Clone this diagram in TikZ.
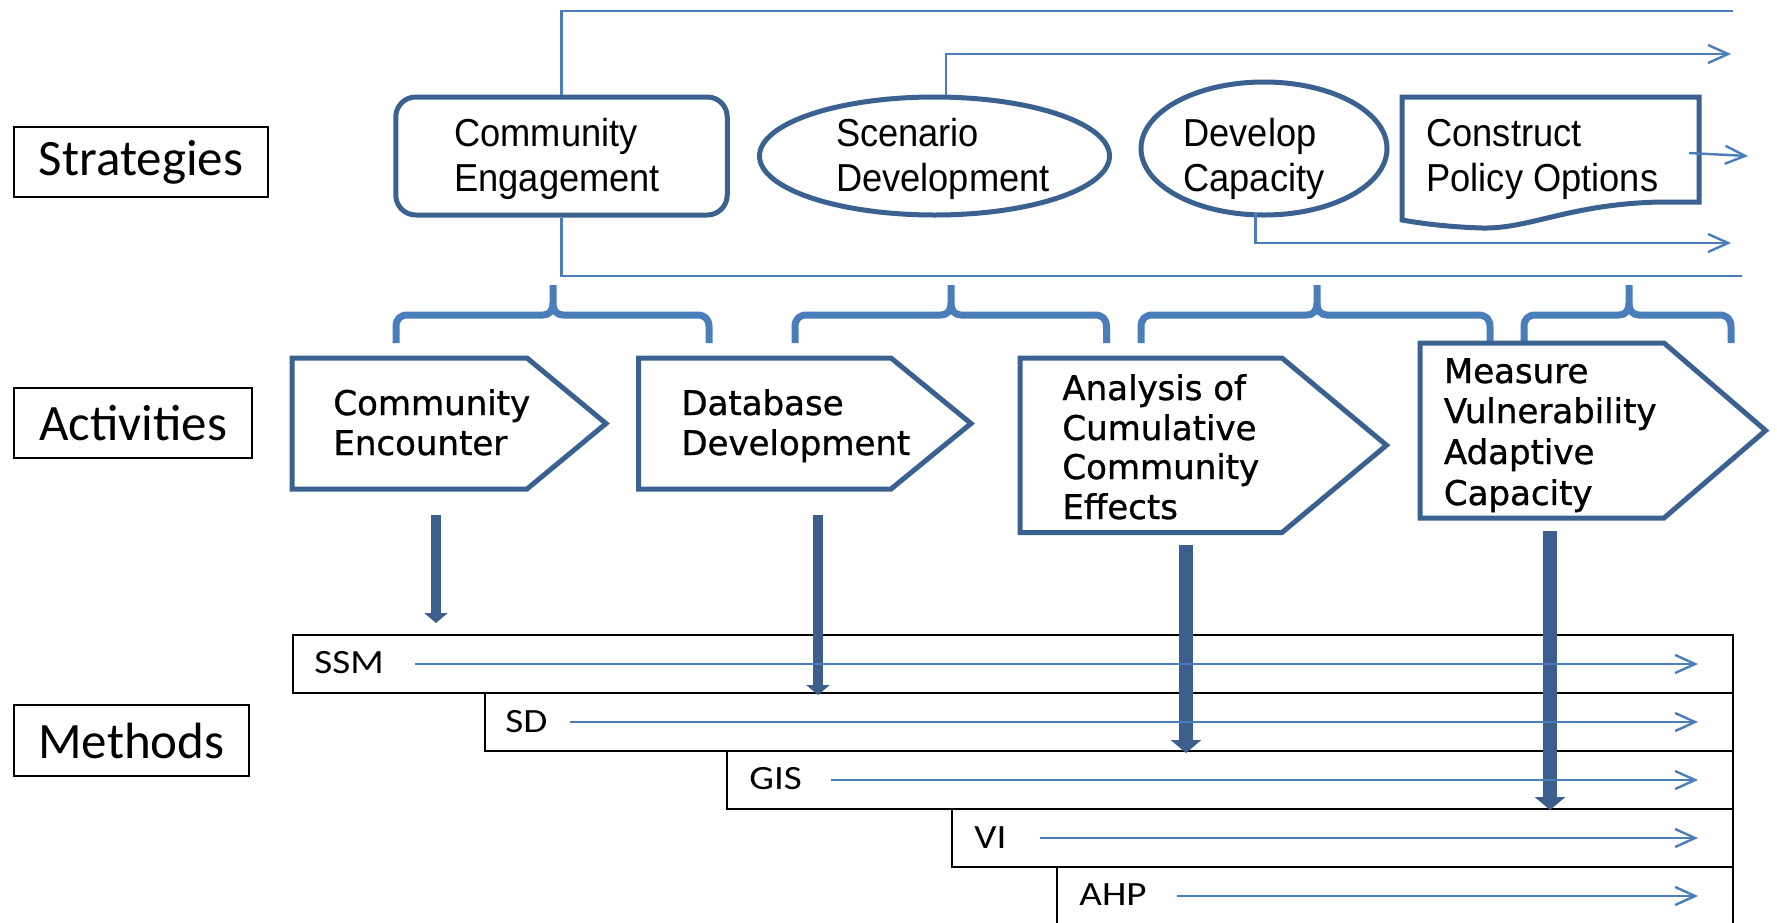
\documentclass[tikz,border=0pt]{standalone}
\usepackage{fontspec}
\usetikzlibrary{arrows.meta,shapes.geometric,calc}
\newfontfamily\lblfam{Carlito}
\newfontfamily\stratfam[FakeStretch=0.93]{Liberation Sans}
\newfontfamily\actfam[FakeBold=1]{DejaVu Sans}
\newfontfamily\methfam[FakeStretch=1.15]{Carlito}
\definecolor{sdark}{HTML}{3B6190}
\definecolor{adark}{HTML}{3B5E8C}
\definecolor{lblue}{HTML}{4A7EBB}
\newcommand{\drawbrace}[3]{%
  \draw[bracestyle] (#1,343) -- (#1,327) .. controls (#1,319) and (#1+4,315) .. (#1+12,315) -- (#2-10,315) .. controls (#2-4,315) and (#2,311) .. (#2,303) -- (#2,285);
  \draw[bracestyle] (#3,343) -- (#3,327) .. controls (#3,319) and (#3-4,315) .. (#3-12,315) -- (#2+10,315) .. controls (#2+4,315) and (#2,311) .. (#2,303);
}
\begin{document}
\begin{tikzpicture}[x=0.5pt,y=-0.5pt,
  lbl/.style={draw=black, line width=1.2pt, fill=white, inner sep=0pt,
    font=\lblfam\fontsize{25.5pt}{30pt}\selectfont},
  stratshape/.style={draw=sdark, line width=2.5pt, fill=white, inner sep=0pt},
  stxt/.style={anchor=base west, inner sep=0pt, font=\stratfam\fontsize{19.5pt}{23pt}\selectfont},
  actshape/.style={draw=sdark, line width=2.5pt, fill=white, line join=miter},
  actbox/.style={draw=none, inner sep=0pt, outer sep=0pt},
  atxt/.style={anchor=base west, inner sep=0pt, font=\actfam\fontsize{17pt}{20pt}\selectfont},
  bracestyle/.style={draw=lblue, line width=3.5pt, line join=round},
  thinline/.style={draw=lblue, line width=1.2pt},
  thinarrow/.style={thinline, -{Straight Barb[length=10pt,width=9pt]}},
  bigarrow/.style={draw=adark, line width=5pt, -{Triangle[width=11.5pt,length=5pt]}},
  bigarrowb/.style={draw=adark, line width=7pt, -{Triangle[width=15pt,length=6.5pt]}},
  mbox/.style={draw=black, line width=1pt, fill=white, inner sep=0pt, anchor=north west, minimum height=29pt},
  mtxt/.style={anchor=base west, inner sep=0pt, font=\methfam\fontsize{17pt}{20pt}\selectfont},
]
\fill[white] (0,0) rectangle (1777,922);
\path[use as bounding box, clip] (0,0) rectangle (1777,922);

% ---------- row labels ----------
\node[lbl, minimum width=127pt, minimum height=35pt] (strat) at (141,162) {Strategies};
\node[lbl, minimum width=119pt, minimum height=35pt] (activ) at (133,423) {Activities};
\node[lbl, minimum width=117.5pt, minimum height=35.5pt] (meth) at (131.5,740.5) {Methods};

% ---------- strategies ----------
\node[stratshape, rectangle, rounded corners=10pt, minimum width=165.75pt, minimum height=59pt] (ce) at (561.5,156) {};
\node[stratshape, ellipse, minimum width=175pt, minimum height=59pt] (sd) at (934.5,156) {};
\node[stratshape, ellipse, minimum width=123pt, minimum height=66.5pt] (dc) at (1264,148.5) {};
\node[actbox, minimum width=148.5pt, minimum height=52.5pt] (cpo) at (1550.5,149.5) {};
\draw[stratshape, line join=miter] (cpo.north west) -- (cpo.north east) -- (cpo.south east) -- (1660,202)
  .. controls (1570,204) and (1530,229) .. (1482,228)
  .. controls (1450,227) and (1425,224) .. (1402,220) -- cycle;

\node[stxt] (ce1) at (454,146.7) {Community};
\node[stxt] (ce2) at (454,191.7) {Engagement};
\node[stxt] (sd1) at (835.6,146.7) {Scenario};
\node[stxt] (sd2) at (835.6,191.7) {Development};
\node[stxt] (dc1) at (1183,146.7) {Develop};
\node[stxt] (dc2) at (1183,191.7) {Capacity};
\node[stxt] (cp1) at (1426,146.7) {Construct};
\node[stxt] (cp2) at (1426,191.7) {Policy Options};

\coordinate (topend) at (1733,11);
\coordinate (botend) at (1742,276);
\coordinate (sdend) at (1731,54);
\coordinate (dcend) at (1731,243);
\coordinate (cpoend) at (1748,156);
\draw[thinline] (ce.north) |- (topend);
\draw[thinline] (ce.south) |- (botend);
\draw[thinarrow] ($(sd.north)+(11.5,0)$) |- (sdend);
\draw[thinarrow] ($(dc.south)+(-8.6,-5)$) |- (dcend);
\draw[thinarrow] ($(cpo.east)+(-10,3.5)$) -- (cpoend);

% ---------- braces ----------
\drawbrace{396}{553}{709}
\drawbrace{795}{951}{1106.5}
\drawbrace{1141}{1317}{1490}
\drawbrace{1524}{1629}{1731}

% ---------- activities ----------
\node[actbox, minimum width=117.5pt, minimum height=65.5pt] (a1) at (409.5,423.5) {};
\node[actbox, minimum width=126.15pt, minimum height=65.5pt] (a2) at (764.85,423.5) {};
\node[actbox, minimum width=131pt, minimum height=87.25pt] (a3) at (1151,445.25) {};
\node[actbox, minimum width=122pt, minimum height=87.5pt] (a4) at (1542,430.5) {};
\draw[actshape] (a1.north west) -- (a1.north east) -- ($(a1.east)+(79,0)$) -- (a1.south east) -- (a1.south west) -- cycle;
\draw[actshape] (a2.north west) -- (a2.north east) -- ($(a2.east)+(80,0)$) -- (a2.south east) -- (a2.south west) -- cycle;
\draw[actshape] (a3.north west) -- (a3.north east) -- ($(a3.east)+(104.5,0)$) -- (a3.south east) -- (a3.south west) -- cycle;
\draw[actshape] (a4.north west) -- (a4.north east) -- ($(a4.east)+(101.6,0)$) -- (a4.south east) -- (a4.south west) -- cycle;

\node[atxt] (a1l1) at (333,415) {Community};
\node[atxt] (a1l2) at (333,455) {Encounter};
\node[atxt] (a2l1) at (681,415) {Database};
\node[atxt] (a2l2) at (681,455) {Development};
\node[atxt] (a3l1) at (1062,400) {Analysis of};
\node[atxt] (a3l2) at (1062,440) {Cumulative};
\node[atxt] (a3l3) at (1062,479) {Community};
\node[atxt] (a3l4) at (1062,519) {Effects};
\node[atxt] (a4l1) at (1443.5,383) {Measure};
\node[atxt] (a4l2) at (1443.5,423) {Vulnerability};
\node[atxt] (a4l3) at (1443.5,464) {Adaptive};
\node[atxt] (a4l4) at (1443.5,505) {Capacity};

% ---------- methods ----------
\node[mbox, minimum width=720pt] (ssm) at (292,634) {};
\node[mbox, minimum width=624.2pt] (sdm) at (483.6,692) {};
\node[mbox, minimum width=503pt] (gis) at (726,750) {};
\node[mbox, minimum width=390.5pt] (vi) at (951,808) {};
\node[mbox, minimum width=338pt] (ahp) at (1056,866) {};

\node[mtxt] (ssmt) at (314,673) {SSM};
\node[mtxt] (sdt) at (505,732) {SD};
\node[mtxt] (gist) at (749,789) {GIS};
\node[mtxt] (vit) at (974,848) {VI};
\node[mtxt] (ahpt) at (1079,905) {AHP};

% ---------- thick arrows activities -> methods ----------
\coordinate (b1s) at (436,515);  \coordinate (b1e) at (436,623);
\coordinate (b2s) at (818,515);  \coordinate (b2e) at (818,695);
\coordinate (b3s) at (1186,545); \coordinate (b3e) at (1186,753);
\coordinate (b4s) at (1550,531); \coordinate (b4e) at (1550,810);
\draw[bigarrow] (b1s) -- (b1e);
\draw[bigarrow] (b2s) -- (b2e);
\draw[bigarrowb] (b3s) -- (b3e);
\draw[bigarrowb] (b4s) -- (b4e);

% ---------- method arrows ----------
\draw[thinarrow] ($(ssm.west)+(123,0)$) -- ($(ssm.east)+(-36,0)$);
\draw[thinarrow] ($(sdm.west)+(86.4,0)$) -- ($(sdm.east)+(-36,0)$);
\draw[thinarrow] ($(gis.west)+(105,0)$) -- ($(gis.east)+(-36,0)$);
\draw[thinarrow] ($(vi.west)+(89,0)$) -- ($(vi.east)+(-36,0)$);
\draw[thinarrow] ($(ahp.west)+(121,0)$) -- ($(ahp.east)+(-36,0)$);
\end{tikzpicture}
\end{document}
